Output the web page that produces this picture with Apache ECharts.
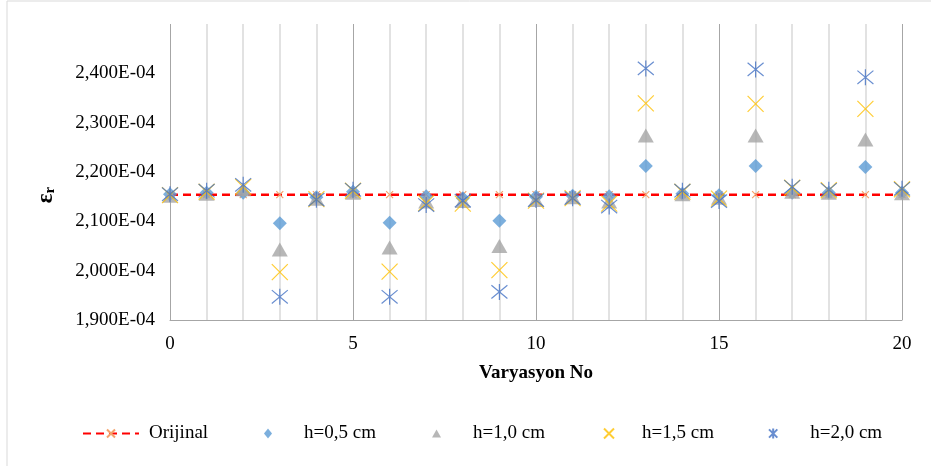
<!DOCTYPE html>
<html>
<head>
<meta charset="utf-8">
<script src="https://cdn.jsdelivr.net/npm/echarts@6/dist/echarts.min.js"></script>
<style>
  html, body { margin: 0; padding: 0; background: #ffffff; }
  #chart { width: 931px; height: 466px; }
</style>
</head>
<body>
<div id="chart"></div>
<script>
// Variation numbers on the horizontal axis
const variations = [0, 1, 2, 3, 4, 5, 6, 7, 8, 9, 10, 11, 12, 13, 14, 15, 16, 17, 18, 19, 20];

// Relative permittivity values, in units of 1E-04
const orijinal = [2.154, 2.154, 2.154, 2.154, 2.154, 2.154, 2.154, 2.154, 2.154, 2.154, 2.154,
                  2.154, 2.154, 2.154, 2.154, 2.154, 2.154, 2.154, 2.154, 2.154, 2.154];
const h05 = [2.155, 2.158, 2.158, 2.096, 2.149, 2.160, 2.097, 2.151, 2.147, 2.101, 2.150,
             2.152, 2.151, 2.212, 2.156, 2.153, 2.212, 2.158, 2.158, 2.210, 2.158];
const h10 = [2.152, 2.156, 2.165, 2.043, 2.146, 2.158, 2.047, 2.140, 2.141, 2.050, 2.143,
             2.149, 2.140, 2.274, 2.155, 2.148, 2.274, 2.160, 2.158, 2.266, 2.157];
const h15 = [2.153, 2.160, 2.170, 1.997, 2.145, 2.162, 1.998, 2.137, 2.136, 2.001, 2.142,
             2.147, 2.136, 2.339, 2.160, 2.146, 2.338, 2.168, 2.163, 2.328, 2.165];
const h20 = [2.155, 2.162, 2.174, 1.947, 2.144, 2.164, 1.947, 2.133, 2.142, 1.957, 2.143,
             2.147, 2.130, 2.410, 2.162, 2.141, 2.408, 2.170, 2.164, 2.392, 2.166];

const seriesNames = ['Orijinal', 'h=0,5 cm', 'h=1,0 cm', 'h=1,5 cm', 'h=2,0 cm'];

const FONT = '"Liberation Serif", "Times New Roman", serif';
const FS = 19;
const CROSS = 'path://M0,0L10,10M10,0L0,10';
const STAR = 'path://M0,0L10,10M10,0L0,10M5,-1L5,11';

const pairs = (ys) => variations.map((x, i) => [x, ys[i]]);

const chart = echarts.init(document.getElementById('chart'), null, { renderer: 'canvas' });

// One legend block per series so each entry sits at its own spot along the bottom
function legendAt(name, left, w, h, gap) {
  return {
    top: 424,
    left: left,
    padding: 0,
    itemWidth: w,
    itemHeight: h,
    selectedMode: false,
    data: [name],
    textStyle: { fontFamily: FONT, fontSize: FS, color: '#000000', padding: [0, 0, 0, gap] }
  };
}

chart.setOption({
  animation: false,
  backgroundColor: '#ffffff',
  grid: { left: 170, right: 29, top: 24, bottom: 146 },
  graphic: [
    {
      type: 'rect',
      shape: { x: 7, y: 1, width: 940, height: 480 },
      style: { fill: 'none', stroke: '#D9D9D9', lineWidth: 1 },
      silent: true
    },
    {
      type: 'text',
      x: 46,
      y: 195,
      rotation: Math.PI / 2,
      style: {
        text: '{e|ε}{r|r}',
        align: 'center',
        verticalAlign: 'middle',
        rich: {
          e: { fontFamily: FONT, fontSize: 23, fontWeight: 'bold', fill: '#000000' },
          r: { fontFamily: FONT, fontSize: 15, fontWeight: 'bold', fill: '#000000', padding: [8, 0, 0, 0] }
        }
      }
    }
  ],
  xAxis: {
    type: 'value',
    min: 0,
    max: 20,
    interval: 5,
    name: 'Varyasyon No',
    nameLocation: 'middle',
    nameGap: 44,
    nameTextStyle: { fontFamily: FONT, fontSize: FS, fontWeight: 'bold', color: '#000000' },
    axisLine: { show: true, lineStyle: { color: '#A6A6A6', width: 1 } },
    axisTick: { show: false },
    axisLabel: { fontFamily: FONT, fontSize: FS, color: '#000000', margin: 15 },
    splitLine: { show: true, lineStyle: { color: '#A6A6A6', width: 1 } },
    minorTick: { show: false, splitNumber: 5 },
    minorSplitLine: { show: true, lineStyle: { color: '#D9D9D9', width: 1.5 } }
  },
  yAxis: {
    type: 'value',
    min: 1.9,
    max: 2.5,
    interval: 0.1,
    axisLine: { show: false },
    axisTick: { show: false },
    splitLine: { show: false },
    axisLabel: {
      fontFamily: FONT,
      fontSize: FS,
      color: '#000000',
      margin: 15,
      showMaxLabel: false,
      formatter: (v) => v.toFixed(3).replace('.', ',') + 'E-04'
    }
  },
  legend: [
    legendAt(seriesNames[0], 82, 56, 10, 5),
    legendAt(seriesNames[1], 264, 8, 10, 27),
    legendAt(seriesNames[2], 432, 9, 8, 27),
    legendAt(seriesNames[3], 603, 10, 10, 23),
    legendAt(seriesNames[4], 768, 10, 10, 27)
  ],
  series: [
    {
      name: seriesNames[0],
      type: 'line',
      data: pairs(orijinal),
      symbol: CROSS,
      symbolSize: 7,
      showAllSymbol: true,
      lineStyle: { color: '#FF0000', width: 2.5, type: [8, 5] },
      itemStyle: { color: 'rgba(0,0,0,0)', borderColor: '#F4A36C', borderWidth: 1.2 },
      z: 2
    },
    {
      name: seriesNames[1],
      type: 'scatter',
      data: pairs(h05),
      symbol: 'diamond',
      symbolSize: [14, 14],
      itemStyle: { color: '#5B9BD5' },
      z: 3
    },
    {
      name: seriesNames[2],
      type: 'scatter',
      data: pairs(h10),
      symbol: 'triangle',
      symbolSize: [16, 14],
      itemStyle: { color: '#A5A5A5' },
      z: 4
    },
    {
      name: seriesNames[3],
      type: 'scatter',
      data: pairs(h15),
      symbol: CROSS,
      symbolSize: 16,
      itemStyle: { color: 'rgba(0,0,0,0)', borderColor: '#FFC000', borderWidth: 1.2 },
      z: 5
    },
    {
      name: seriesNames[4],
      type: 'scatter',
      data: pairs(h20),
      symbol: STAR,
      symbolSize: 16,
      itemStyle: { color: 'rgba(0,0,0,0)', borderColor: '#4472C4', borderWidth: 1.2 },
      z: 6
    }
  ]
});
</script>
</body>
</html>
